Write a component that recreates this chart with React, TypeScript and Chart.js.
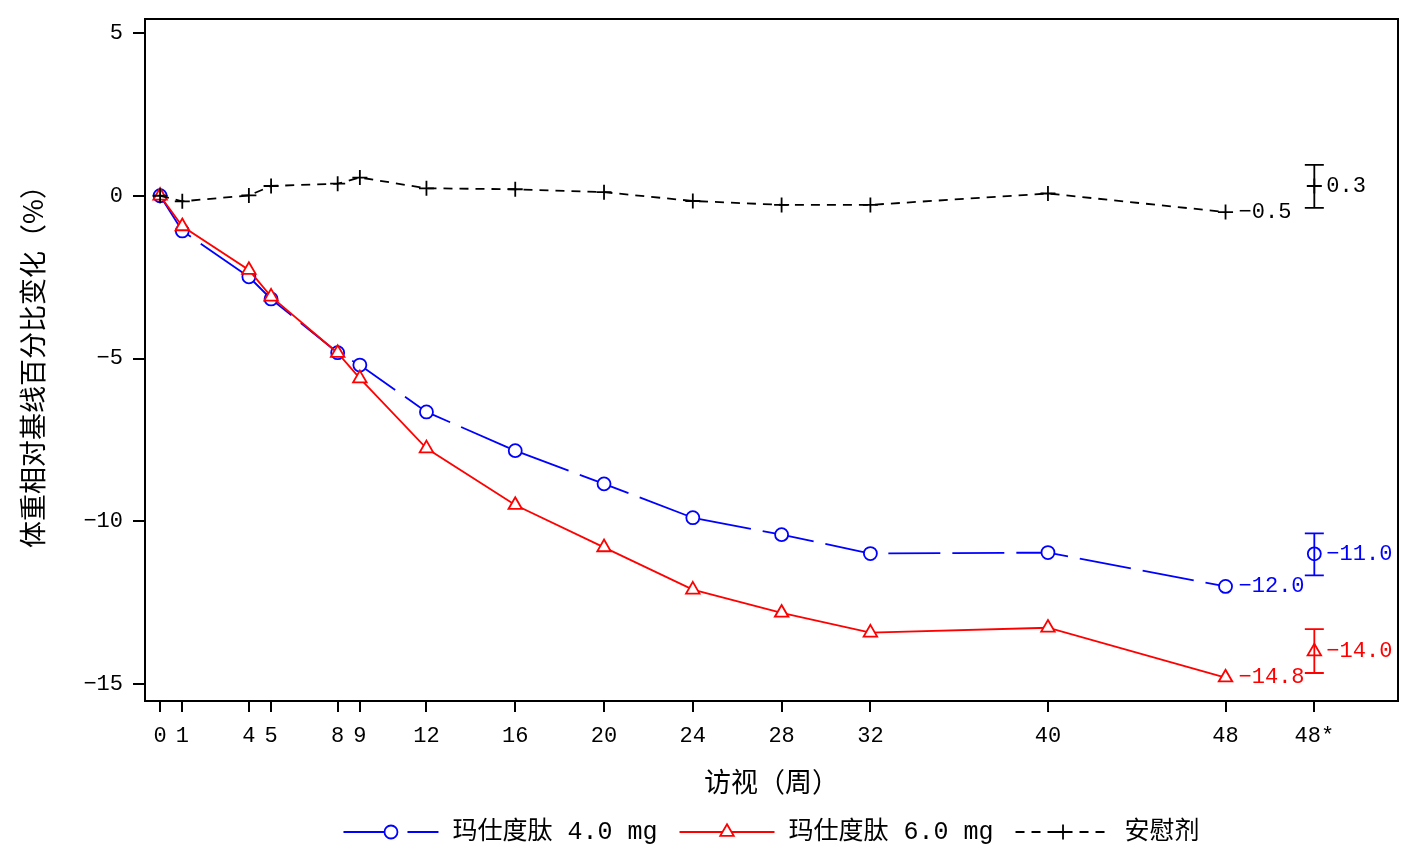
import React, { useEffect, useRef } from 'react';
import { Chart, registerables } from 'chart.js';

Chart.register(...registerables);

// Visit weeks and mean percent change from baseline in body weight
const weeks = [0, 1, 4, 5, 8, 9, 12, 16, 20, 24, 28, 32, 40, 48];
const dose4mg = [0, -1.08, -2.49, -3.17, -4.82, -5.2, -6.64, -7.83, -8.85, -9.89, -10.41, -10.99, -10.96, -12.0];
const dose6mg = [0, -0.94, -2.28, -3.1, -4.83, -5.61, -7.76, -9.5, -10.8, -12.1, -12.81, -13.42, -13.27, -14.8];
const placebo = [0, -0.17, 0.01, 0.3, 0.37, 0.56, 0.23, 0.2, 0.11, -0.16, -0.28, -0.28, 0.07, -0.5];

// Week 48 estimate (shown at the "48*" slot) with its interval
const endpointWeek = 52;
const endValues = [-11.0, -14.0, 0.3];
const endLower = [-11.66, -14.66, -0.37];
const endUpper = [-10.37, -13.31, 0.95];

// Axis ticks
const xTickValues = [0, 1, 4, 5, 8, 9, 12, 16, 20, 24, 28, 32, 40, 48, 52];
const xTickLabels = ['0', '1', '4', '5', '8', '9', '12', '16', '20', '24', '28', '32', '40', '48', '48*'];
const yTickValues = [-15, -10, -5, 0, 5];

const seriesNames = ['玛仕度肽 4.0 mg', '玛仕度肽 6.0 mg', '安慰剂'];
const seriesColors = ['#0000ff', '#ff0000', '#000000'];
const seriesDash = [[52, 12], [], [9, 7]];
const seriesMarkers = ['circle', 'triangle', 'cross'];
const markerRadius = [6.5, 7.8, 7.5];

const MONO = '"Liberation Mono", "Noto Sans CJK SC", monospace';
const CJK = '"Noto Sans CJK SC", "Liberation Mono", sans-serif';

const fmt = (v: number) => {
  const s = Math.abs(v).toFixed(1);
  return v < 0 ? '\u2212' + s : s;
};

function drawMarker(ctx: CanvasRenderingContext2D, kind: string, x: number, y: number, r: number) {
  ctx.beginPath();
  if (kind === 'circle') {
    ctx.arc(x, y, r, 0, Math.PI * 2);
    ctx.fillStyle = '#ffffff';
    ctx.fill();
  } else if (kind === 'triangle') {
    let a = 0;
    ctx.moveTo(x + Math.sin(a) * r, y - Math.cos(a) * r);
    a += (2 * Math.PI) / 3;
    ctx.lineTo(x + Math.sin(a) * r, y - Math.cos(a) * r);
    a += (2 * Math.PI) / 3;
    ctx.lineTo(x + Math.sin(a) * r, y - Math.cos(a) * r);
    ctx.closePath();
    ctx.fillStyle = '#ffffff';
    ctx.fill();
  } else {
    ctx.moveTo(x, y - r);
    ctx.lineTo(x, y + r);
    ctx.moveTo(x - r, y);
    ctx.lineTo(x + r, y);
  }
  ctx.stroke();
}

const framePlugin = {
  id: 'frame',
  afterDraw(chart: any) {
    const { ctx, chartArea: a } = chart;
    ctx.save();
    ctx.strokeStyle = '#000';
    ctx.lineWidth = 2;
    ctx.strokeRect(a.left, a.top, a.right - a.left, a.bottom - a.top);
    ctx.restore();
  },
};

const errorBarPlugin = {
  id: 'errorBars',
  afterDatasetsDraw(chart: any) {
    const { ctx, scales } = chart;
    const x = scales.x.getPixelForValue(endpointWeek);
    ctx.save();
    ctx.lineWidth = 1.8;
    endValues.forEach((_, i) => {
      const yLo = scales.y.getPixelForValue(endLower[i]);
      const yHi = scales.y.getPixelForValue(endUpper[i]);
      ctx.strokeStyle = seriesColors[i];
      ctx.beginPath();
      ctx.moveTo(x, yLo);
      ctx.lineTo(x, yHi);
      ctx.moveTo(x - 9.5, yLo);
      ctx.lineTo(x + 9.5, yLo);
      ctx.moveTo(x - 9.5, yHi);
      ctx.lineTo(x + 9.5, yHi);
      ctx.stroke();
    });
    ctx.restore();
  },
};

const valueLabelPlugin = {
  id: 'valueLabels',
  afterDatasetsDraw(chart: any) {
    const { ctx, scales } = chart;
    const series = [dose4mg, dose6mg, placebo];
    ctx.save();
    ctx.font = `22px ${MONO}`;
    ctx.textAlign = 'left';
    ctx.textBaseline = 'middle';
    series.forEach((vals, i) => {
      const last = vals[vals.length - 1];
      ctx.fillStyle = seriesColors[i];
      ctx.fillText(fmt(last), scales.x.getPixelForValue(weeks[weeks.length - 1]) + 13, scales.y.getPixelForValue(last));
      ctx.fillText(fmt(endValues[i]), scales.x.getPixelForValue(endpointWeek) + 12, scales.y.getPixelForValue(endValues[i]));
    });
    ctx.restore();
  },
};

const legendPlugin = {
  id: 'lineLegend',
  afterDraw(chart: any) {
    const { ctx, chartArea } = chart;
    const lineLen = 95;
    const gapText = 14;
    const gapItem = 22;
    const yMid = 832;
    ctx.save();
    ctx.font = `25px ${MONO}`;
    const widths = seriesNames.map((n) => lineLen + gapText + ctx.measureText(n).width);
    const total = widths.reduce((s, w) => s + w, 0) + gapItem * (widths.length - 1);
    let x = (chartArea.left + chartArea.right) / 2 - total / 2;
    seriesNames.forEach((name, i) => {
      ctx.strokeStyle = seriesColors[i];
      ctx.lineWidth = 1.8;
      ctx.setLineDash(seriesDash[i]);
      ctx.beginPath();
      ctx.moveTo(x, yMid);
      ctx.lineTo(x + lineLen, yMid);
      ctx.stroke();
      ctx.setLineDash([]);
      drawMarker(ctx, seriesMarkers[i], x + lineLen / 2, yMid, markerRadius[i]);
      ctx.fillStyle = '#000';
      ctx.textAlign = 'left';
      ctx.textBaseline = 'middle';
      ctx.fillText(name, x + lineLen + gapText, yMid);
      x += widths[i] + gapItem;
    });
    ctx.restore();
  },
};

export default function App() {
  const canvasRef = useRef<HTMLCanvasElement | null>(null);

  useEffect(() => {
    if (!canvasRef.current) return;
    const series = [dose4mg, dose6mg, placebo];
    const lineSets = series.map((vals, i) => ({
      type: 'line' as const,
      label: seriesNames[i],
      data: weeks.map((w, k) => ({ x: w, y: vals[k] })),
      borderColor: seriesColors[i],
      borderWidth: 1.8,
      borderDash: seriesDash[i],
      pointStyle: seriesMarkers[i],
      pointRadius: markerRadius[i],
      pointBorderWidth: 1.8,
      pointBorderColor: seriesColors[i],
      pointBackgroundColor: '#ffffff',
      tension: 0,
      fill: false,
      order: [2, 1, 0][i],
    }));
    const endSets = endValues.map((v, i) => ({
      type: 'line' as const,
      label: seriesNames[i] + ' 48*',
      data: [{ x: endpointWeek, y: v }],
      showLine: false,
      borderColor: seriesColors[i],
      pointStyle: seriesMarkers[i],
      pointRadius: markerRadius[i],
      pointBorderWidth: 1.8,
      pointBorderColor: seriesColors[i],
      pointBackgroundColor: 'rgba(0,0,0,0)',
      order: [2, 1, 0][i],
    }));

    const chart = new Chart(canvasRef.current, {
      type: 'line',
      data: { datasets: [...lineSets, ...endSets] as any },
      options: {
        animation: false,
        responsive: false,
        events: [],
        layout: { padding: { top: 19, right: 19, bottom: 68, left: 0 } },
        plugins: {
          legend: { display: false },
          tooltip: { enabled: false },
        },
        scales: {
          x: {
            type: 'linear',
            min: -0.68,
            max: 55.77,
            afterFit: (scale: any) => {
              scale.height = 97;
              scale.paddingLeft = 0;
              scale.paddingRight = 0;
            },
            afterBuildTicks: (scale: any) => {
              scale.ticks = xTickValues.map((value) => ({ value }));
            },
            ticks: {
              autoSkip: false,
              maxRotation: 0,
              padding: 11,
              color: '#000',
              font: { family: MONO, size: 22 },
              callback: (value: any) => {
                const idx = xTickValues.indexOf(Number(value));
                return idx >= 0 ? xTickLabels[idx] : '';
              },
            },
            grid: { drawOnChartArea: false, color: '#000', lineWidth: 2, tickLength: 11 },
            border: { color: '#000', width: 2 },
            title: {
              display: true,
              text: '访视（周）',
              color: '#000',
              font: { family: CJK, size: 27 },
              padding: { top: 0, bottom: 0 },
            },
          },
          y: {
            type: 'linear',
            min: -15.52,
            max: 5.43,
            afterFit: (scale: any) => {
              scale.width = 145;
              scale.paddingTop = 0;
              scale.paddingBottom = 0;
            },
            afterBuildTicks: (scale: any) => {
              scale.ticks = yTickValues.map((value) => ({ value }));
            },
            ticks: {
              padding: 10,
              color: '#000',
              font: { family: MONO, size: 22 },
              callback: (value: any) => {
                const v = Number(value);
                return v < 0 ? '\u2212' + Math.abs(v) : String(v);
              },
            },
            grid: { drawOnChartArea: false, color: '#000', lineWidth: 2, tickLength: 12 },
            border: { color: '#000', width: 2 },
            title: {
              display: true,
              text: '体重相对基线百分比变化（%）',
              color: '#000',
              font: { family: CJK, size: 27 },
              padding: { top: 17, bottom: 0 },
            },
          },
        },
      },
      plugins: [framePlugin, errorBarPlugin, valueLabelPlugin, legendPlugin],
    } as any);

    return () => chart.destroy();
  }, []);

  return (
    <div style={{ position: 'absolute', left: 0, top: 0, width: 1417, height: 866, background: '#fff' }}>
      <canvas ref={canvasRef} width={1417} height={866} style={{ display: 'block' }} />
    </div>
  );
}
